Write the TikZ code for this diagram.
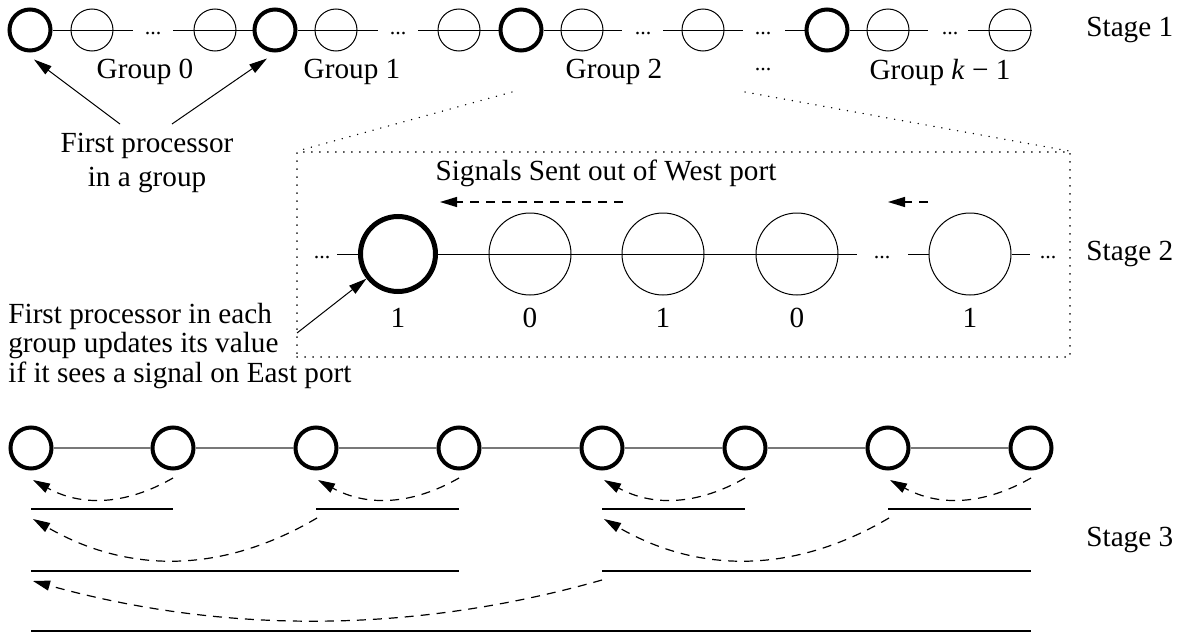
\documentclass[tikz,border=0pt]{standalone}
\usepackage{fontspec}
\setmainfont{Liberation Serif}
\usetikzlibrary{arrows.meta,calc}
\definecolor{wiregray}{RGB}{120,120,120}
\begin{document}
\begin{tikzpicture}[x=0.5pt,y=-0.5pt,
  every node/.style={font=\fontsize{14.6}{14.6}\selectfont, inner sep=0pt},
  bigp/.style={circle, draw, line width=2pt, fill=white, minimum size=20.5pt},
  smallp/.style={circle, draw, line width=0.5pt, minimum size=21pt},
  bigq/.style={circle, draw, line width=2.5pt, fill=white, minimum size=37.5pt},
  smallq/.style={circle, draw, line width=0.5pt, minimum size=41pt},
  bigr/.style={circle, draw, line width=2pt, fill=white, minimum size=20.5pt},
  wire/.style={line width=0.5pt},
  gwire/.style={line width=0.8pt, wiregray},
  rowline/.style={line width=1.3pt},
  ell/.style={font=\fontsize{11}{12}\selectfont, anchor=base},
  ptr/.style={line width=0.5pt, -{Triangle[length=9pt,width=5pt]}},
  sig/.style={line width=0.6pt, dash pattern=on 4.5pt off 3.5pt, -{Triangle[length=8.5pt,width=5pt]}},
  dotl/.style={line width=0.7pt, dash pattern=on 0.1pt off 3.9pt, line cap=round},
  stagelbl/.style={anchor=west}
]
\useasboundingbox (0,0) rectangle (1185,637);

% ---------------- Stage 1 ----------------
\node[bigp] (t0) at (30,30) {};
\node[smallp] (c01) at (92,30) {};
\node[smallp] (c02) at (215,30) {};
\node[bigp] (t1) at (275,30) {};
\node[smallp] (c11) at (336,30) {};
\node[smallp] (c12) at (459,30) {};
\node[bigp] (t2) at (521,30) {};
\node[smallp] (c21) at (582,30) {};
\node[smallp] (c22) at (703,30) {};
\node[bigp] (t3) at (827,30) {};
\node[smallp] (c31) at (888,30) {};
\node[smallp] (c32) at (1010,30) {};
\coordinate (a0) at (133,30);
\coordinate (b0) at (173,30);
\coordinate (a1) at (378,30);
\coordinate (b1) at (418,30);
\coordinate (a2) at (622,30);
\coordinate (b2) at (663,30);
\coordinate (e2) at (743,30);
\coordinate (f2) at (785,30);
\coordinate (a3) at (928,30);
\coordinate (b3) at (968,30);
\draw[wire] (t0) -- (a0);
\draw[wire] (b0) -- (t1);
\draw[wire] (t1) -- (a1);
\draw[wire] (b1) -- (t2);
\draw[wire] (t2) -- (a2);
\draw[wire] (b2) -- (e2);
\draw[wire] (f2) -- (t3);
\draw[wire] (t3) -- (a3);
\draw[wire] (b3) -- (c32.east);
\node[ell] (d0) at (153,34) {...};
\node[ell] (d1) at (398,34) {...};
\node[ell] (d2) at (643,34) {...};
\node[ell] (d3) at (763,34) {...};
\node[ell] (d4) at (950,34) {...};
\node[stagelbl] (st1) at (1086,30) {Stage 1};

\node (g0) at (145,72) {Group 0};
\node (g1) at (352,72) {Group 1};
\node (g2) at (614,72) {Group 2};
\node[ell] (gd) at (763,70) {...};
\node (g3) at (940,72) {Group \textit{k} − 1};

\node[align=center, font=\fontsize{14.6}{17}\selectfont] (fp) at (147,163) {First processor\\in a group};
\coordinate (fpl) at (120,124);
\coordinate (fpr) at (172,124);
\draw[ptr] (fpl) -- ([shift={(4,7)}]t0.south);
\draw[ptr] (fpr) -- ([shift={(-8,6)}]t1.south);

% ---------------- Stage 2 ----------------
\node[draw, dotl, minimum width=386.5pt, minimum height=102.5pt] (box) at (683.5,254.5) {};
\coordinate (g2l) at (512,92);
\coordinate (g2r) at (745,92);
\draw[dotl] (g2l) -- (box.north west);
\draw[dotl] (g2r) -- (box.north east);

\node[bigq] (s2a) at (398,254) {};
\node[smallq] (s2b) at (530,254) {};
\node[smallq] (s2c) at (663,254) {};
\node[smallq] (s2d) at (797,254) {};
\node[smallq] (s2e) at (970,254) {};
\coordinate (p0) at (337,254);
\coordinate (p1) at (857,254);
\coordinate (p2) at (908,254);
\coordinate (p3) at (1030,254);
\draw[wire] (p0) -- (s2a);
\draw[wire] (s2a) -- (p1);
\draw[wire] (p2) -- (s2e);
\draw[wire] (s2e) -- (p3);
\node[ell] (e0) at (322,258) {...};
\node[ell] (e1) at (882,258) {...};
\node[ell] (e2d) at (1048,258) {...};
\node (v1) at (398,318) {1};
\node (v2) at (530,318) {0};
\node (v3) at (663,318) {1};
\node (v4) at (797,318) {0};
\node (v5) at (970,318) {1};
\node (sig) at (606,173) {Signals Sent out of West port};
\coordinate (q0) at (623,202);
\coordinate (q1) at (440,202);
\coordinate (q2) at (928,202);
\coordinate (q3) at (888,202);
\draw[sig] (q0) -- (q1);
\draw[sig] (q2) -- (q3);
\node[stagelbl] (st2) at (1086,254) {Stage 2};

\node[align=left, anchor=north west] (upd) at (8,303) {First processor in each\\group updates its value\\if it sees a signal on East port};
\coordinate (updt) at (297,333);
\draw[ptr] (updt) -- (s2a);

% ---------------- Stage 3 ----------------
\node[bigr] (u1) at (31,448) {};
\node[bigr] (u2) at (173,448) {};
\node[bigr] (u3) at (316,448) {};
\node[bigr] (u4) at (459,448) {};
\node[bigr] (u5) at (602,448) {};
\node[bigr] (u6) at (745,448) {};
\node[bigr] (u7) at (888,448) {};
\node[bigr] (u8) at (1031,448) {};
\draw[gwire] (u1) -- (u2);
\draw[gwire] (u2) -- (u3);
\draw[gwire] (u3) -- (u4);
\draw[gwire] (u4) -- (u5);
\draw[gwire] (u5) -- (u6);
\draw[gwire] (u6) -- (u7);
\draw[gwire] (u7) -- (u8);

\coordinate (r1) at (0,509);
\coordinate (r2) at (0,571);
\coordinate (r3) at (0,631);
\draw[rowline] (u1 |- r1) -- (u2 |- r1);
\draw[rowline] (u3 |- r1) -- (u4 |- r1);
\draw[rowline] (u5 |- r1) -- (u6 |- r1);
\draw[rowline] (u7 |- r1) -- (u8 |- r1);
\draw[rowline] (u1 |- r2) -- (u4 |- r2);
\draw[rowline] (u5 |- r2) -- (u8 |- r2);
\draw[rowline] (u1 |- r3) -- (u8 |- r3);

\draw[sig] ($(u2)+(0,30)$) .. controls ($(u2)+(-47,57)$) and ($(u1)+(51,59)$) .. ($(u1)+(2,32)$);
\draw[sig] ($(u4)+(0,30)$) .. controls ($(u4)+(-47,57)$) and ($(u3)+(51,59)$) .. ($(u3)+(2,32)$);
\draw[sig] ($(u6)+(0,30)$) .. controls ($(u6)+(-47,57)$) and ($(u5)+(51,59)$) .. ($(u5)+(2,32)$);
\draw[sig] ($(u8)+(0,30)$) .. controls ($(u8)+(-47,57)$) and ($(u7)+(51,59)$) .. ($(u7)+(2,32)$);
\draw[sig] ($(u3)+(1,70)$) .. controls ($(u3)+(-94,126)$) and ($(u1)+(97,126)$) .. ($(u1)+(2,71)$);
\draw[sig] ($(u7)+(1,70)$) .. controls ($(u7)+(-94,126)$) and ($(u5)+(97,126)$) .. ($(u5)+(2,71)$);
\draw[sig] ($(u5)+(0,132)$) .. controls ($(u5)+(-190,186)$) and ($(u1)+(192,186)$) .. ($(u1)+(2,133)$);
\node[stagelbl] (st3) at (1086,540) {Stage 3};
\end{tikzpicture}
\end{document}
